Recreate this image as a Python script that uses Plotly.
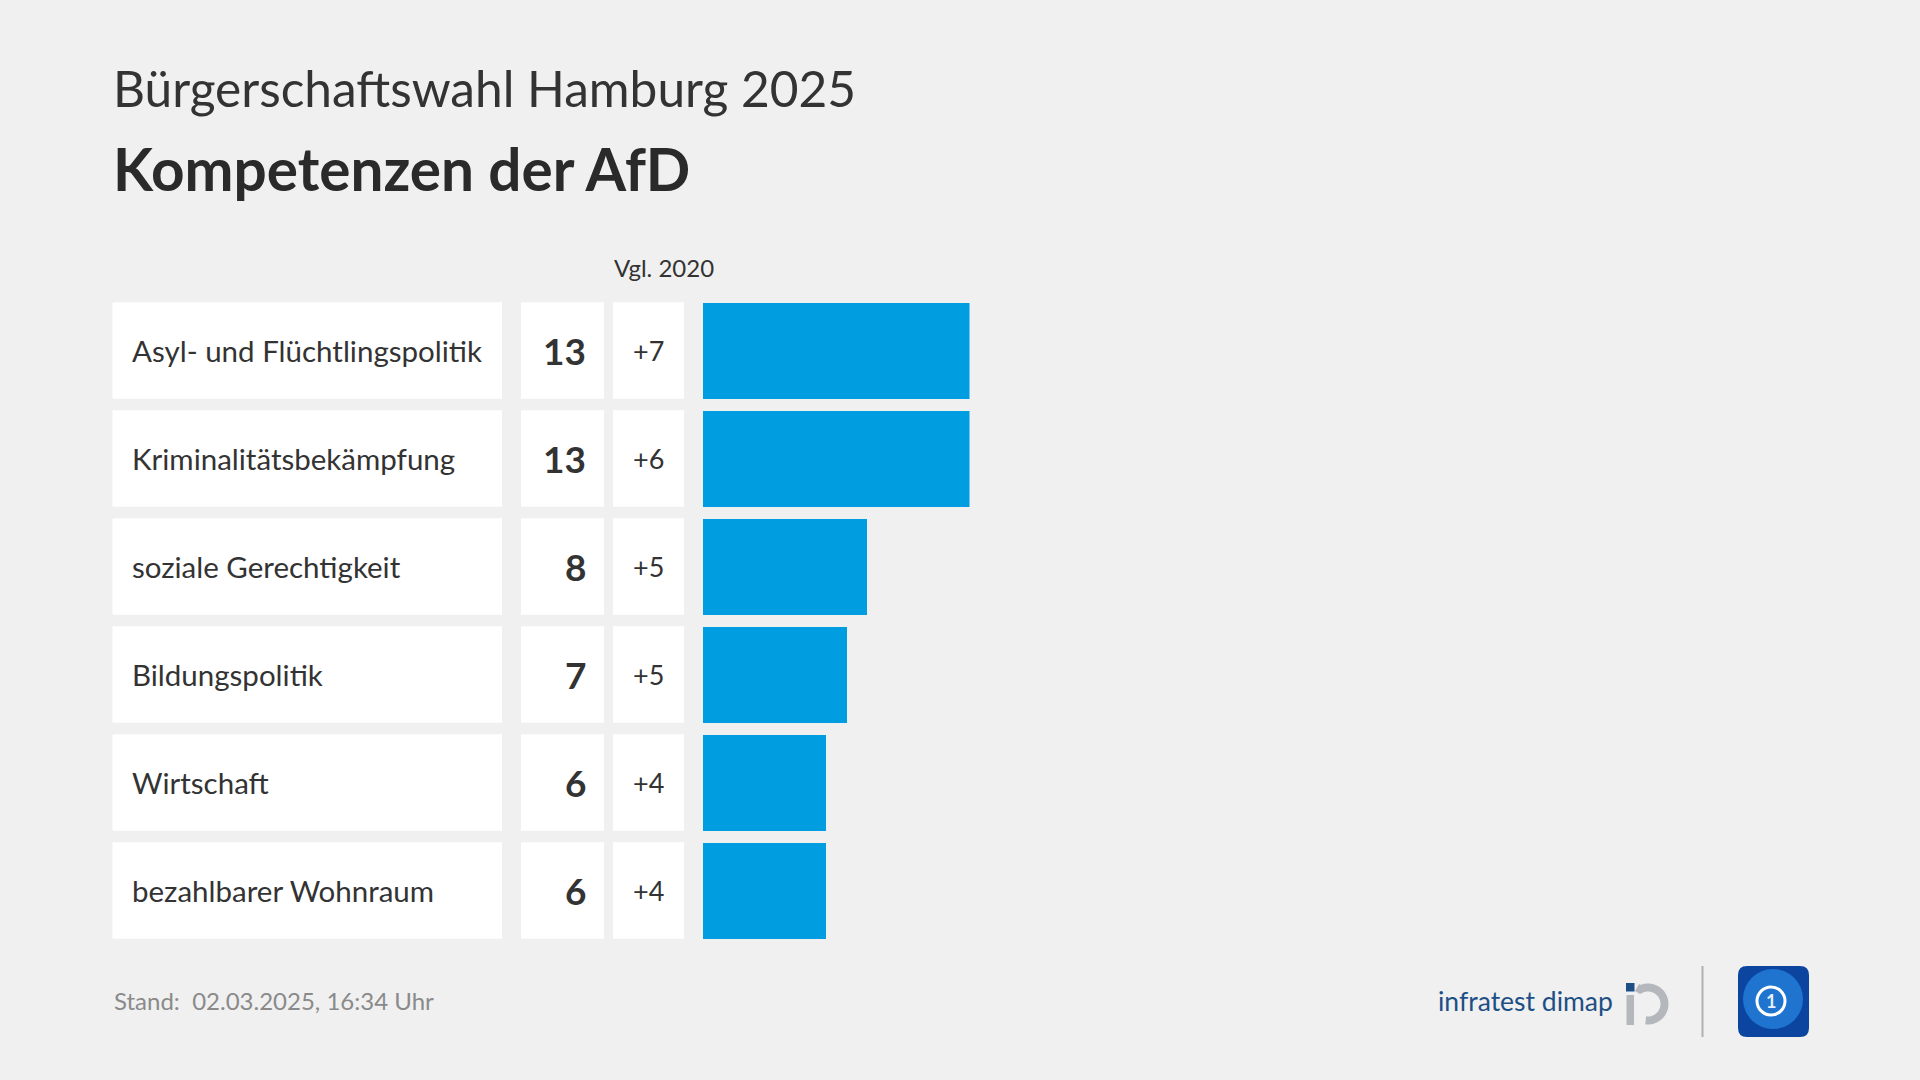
import numpy as np
import plotly.graph_objects as go

# ---------------- data ----------------
categories = ["Asyl- und Flüchtlingspolitik", "Kriminalitätsbekämpfung", "soziale Gerechtigkeit",
              "Bildungspolitik", "Wirtschaft", "bezahlbarer Wohnraum"]
values = [13, 13, 8, 7, 6, 6]
changes = ["+7", "+6", "+5", "+5", "+4", "+4"]

title_top = "Bürgerschaftswahl Hamburg 2025"
title_main = "Kompetenzen der AfD"
compare_label = "Vgl. 2020"
footer = "Stand:  02.03.2025, 16:34 Uhr"

# ---------------- layout constants ----------------
W, H = 1920, 1080
BG = "#f0f0f0"
BAR = "#009de0"
TXT = "#333333"
FONT = "Lato"

def px(x):
    return x / W

def py(y):
    return 1 - y / H

row_top0 = 296.5
pitch = 108.0
n = len(categories)
y_top = row_top0
y_bot = row_top0 + n * pitch
half = 0.4475  # half height of a row box in category units

bar_x0, bar_x13 = 703, 969.5

fig = go.Figure()
fig.add_trace(go.Bar(
    x=values, y=categories, orientation="h",
    marker=dict(color=BAR, line=dict(width=0)),
    width=2 * half, hoverinfo="skip", showlegend=False,
))

shapes = []
annotations = []

# white boxes per row
for i, (cat, v, c) in enumerate(zip(categories, values, changes)):
    for (x0, x1) in [(112.5, 502), (521, 604), (613, 684)]:
        shapes.append(dict(type="rect", xref="paper", yref="y", x0=px(x0), x1=px(x1),
                           y0=i - half, y1=i + half, fillcolor="white", line=dict(width=0), layer="below"))
    annotations.append(dict(text=cat, xref="paper", yref="y", x=px(129.5), y=i, xanchor="left", yanchor="middle",
                            showarrow=False, font=dict(family=FONT, size=29.5, color=TXT)))
    annotations.append(dict(text=f"<b>{v}</b>", xref="paper", yref="y", x=px(587.5), y=i, xanchor="right",
                            yanchor="middle", showarrow=False, font=dict(family=FONT, size=37, color=TXT)))
    annotations.append(dict(text=c, xref="paper", yref="y", x=px(648.5), y=i, xanchor="center",
                            yanchor="middle", showarrow=False, font=dict(family=FONT, size=27, color=TXT)))

# titles
annotations.append(dict(text=title_top, xref="paper", yref="paper", x=px(111), y=py(88), xanchor="left",
                        yanchor="middle", showarrow=False, font=dict(family=FONT, size=49.6, color=TXT)))
annotations.append(dict(text=f"<b>{title_main}</b>", xref="paper", yref="paper", x=px(111), y=py(168),
                        xanchor="left", yanchor="middle", showarrow=False,
                        font=dict(family=FONT, size=58.5, color="#2a2a2a")))
annotations.append(dict(text=compare_label, xref="paper", yref="paper", x=px(664), y=py(267),
                        xanchor="center", yanchor="middle", showarrow=False,
                        font=dict(family=FONT, size=24, color=TXT)))
annotations.append(dict(text=footer, xref="paper", yref="paper", x=px(112), y=py(1000),
                        xanchor="left", yanchor="middle", showarrow=False,
                        font=dict(family=FONT, size=24, color="#8a8a8a")))

# infratest dimap logo
annotations.append(dict(text="infratest dimap", xref="paper", yref="paper", x=px(1436), y=py(1001),
                        xanchor="left", yanchor="middle", showarrow=False,
                        font=dict(family=FONT, size=26.5, color="#1d4f86")))
shapes.append(dict(type="rect", xref="paper", yref="paper", x0=px(1626), x1=px(1634.5), y0=py(983), y1=py(991.5),
                   fillcolor="#1d4f86", line=dict(width=0)))
shapes.append(dict(type="rect", xref="paper", yref="paper", x0=px(1626.5), x1=px(1634), y0=py(995), y1=py(1025),
                   fillcolor="#b4b8bc", line=dict(width=0)))
cx, cy, r = 1648, 1004, 16.5
ang = np.linspace(np.radians(118), np.radians(-98), 60)
pts = [(1637, cy - r)] + [(cx + r * np.cos(a), cy - r * np.sin(a)) for a in ang]
path = "M " + " L ".join(f"{px(x):.5f},{py(y):.5f}" for x, y in pts)
shapes.append(dict(type="path", xref="paper", yref="paper", path=path,
                   line=dict(color="#b4b8bc", width=8), fillcolor="rgba(0,0,0,0)"))

# separator
shapes.append(dict(type="line", xref="paper", yref="paper", x0=px(1702.5), x1=px(1702.5), y0=py(966), y1=py(1037),
                   line=dict(color="#b0b0b0", width=2)))

# tagesschau logo
def rrect(x0, y0, x1, y1, rr):
    return (f"M {px(x0+rr)},{py(y0)} L {px(x1-rr)},{py(y0)} Q {px(x1)},{py(y0)} {px(x1)},{py(y0+rr)} "
            f"L {px(x1)},{py(y1-rr)} Q {px(x1)},{py(y1)} {px(x1-rr)},{py(y1)} "
            f"L {px(x0+rr)},{py(y1)} Q {px(x0)},{py(y1)} {px(x0)},{py(y1-rr)} "
            f"L {px(x0)},{py(y0+rr)} Q {px(x0)},{py(y0)} {px(x0+rr)},{py(y0)} Z")
shapes.append(dict(type="path", xref="paper", yref="paper", path=rrect(1738, 966, 1809, 1037, 9),
                   fillcolor="#0b45a0", line=dict(width=0)))
shapes.append(dict(type="circle", xref="paper", yref="paper", x0=px(1743), x1=px(1803), y0=py(969), y1=py(1029),
                   fillcolor="#1f74d0", line=dict(width=0)))
shapes.append(dict(type="circle", xref="paper", yref="paper", x0=px(1757), x1=px(1785), y0=py(987), y1=py(1015),
                   fillcolor="rgba(0,0,0,0)", line=dict(color="white", width=3)))
annotations.append(dict(text="<b>1</b>", xref="paper", yref="paper", x=px(1771), y=py(1001), xanchor="center",
                        yanchor="middle", showarrow=False, font=dict(family=FONT, size=18, color="#e8f0fa")))

fig.update_layout(
    width=W, height=H, margin=dict(l=0, r=0, t=0, b=0),
    paper_bgcolor=BG, plot_bgcolor=BG,
    xaxis=dict(domain=[px(bar_x0), px(bar_x13)], range=[0, 13], visible=False, fixedrange=True),
    yaxis=dict(domain=[py(y_bot), py(y_top)], range=[n - 0.5, -0.5], visible=False, fixedrange=True,
               type="category", categoryorder="array", categoryarray=categories),
    shapes=shapes, annotations=annotations, bargap=0,
)

fig.write_html("out.html", config={"displayModeBar": False},
               post_script="document.body.style.margin='0';document.body.style.overflow='hidden';")
